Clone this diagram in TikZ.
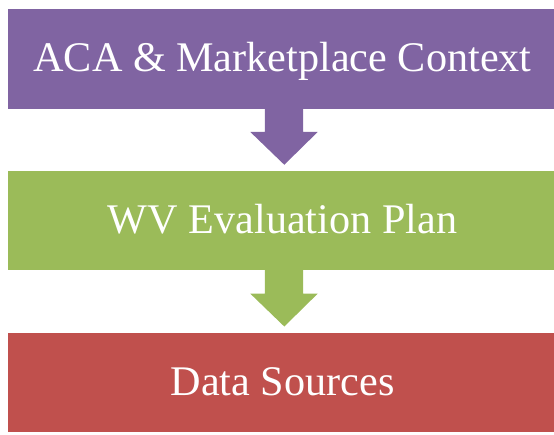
\documentclass[tikz,border=0pt]{standalone}
\usepackage{fontspec}
\setmainfont{Liberation Serif}
\usetikzlibrary{calc}

\definecolor{ctxpurple}{HTML}{8064A2}
\definecolor{plangreen}{HTML}{9BBB59}
\definecolor{datared}{HTML}{C0504D}

\tikzset{
  band/.style={rectangle, draw=white, line width=0.5pt, minimum width=551pt,
    minimum height=100.7pt, inner sep=0pt, text=white,
    font=\fontsize{42.2}{50}\selectfont, text height=36.5pt, text depth=10.5pt},
}

% Block arrow from the bottom of one band down to just above the next
\newcommand{\flowarrow}[3]{%
  \fill[#3] ($(#1.south)+(-17.7,-1)$) -- ($(#1.south)+(-17.7,22.7)$)
    -- ($(#1.south)+(-32.2,22.7)$) -- ($(#2.north)+(1.8,-5)$)
    -- ($(#1.south)+(35.2,22.7)$) -- ($(#1.south)+(20.7,22.7)$)
    -- ($(#1.south)+(20.7,-1)$) -- cycle;}

\begin{document}
\begin{tikzpicture}[x=1pt,y=-1pt]
  \useasboundingbox (0,0) rectangle (554,434);

  \node[band, fill=ctxpurple] (ctx)  at (282.5,58.65) {ACA \& Marketplace Context};
  \node[band, fill=plangreen] (plan) at (282.5,220.35) {WV Evaluation Plan};
  \node[band, fill=datared]   (data) at (282.5,382.1) {Data Sources};

  \flowarrow{ctx}{plan}{ctxpurple}
  \flowarrow{plan}{data}{plangreen}
\end{tikzpicture}
\end{document}
